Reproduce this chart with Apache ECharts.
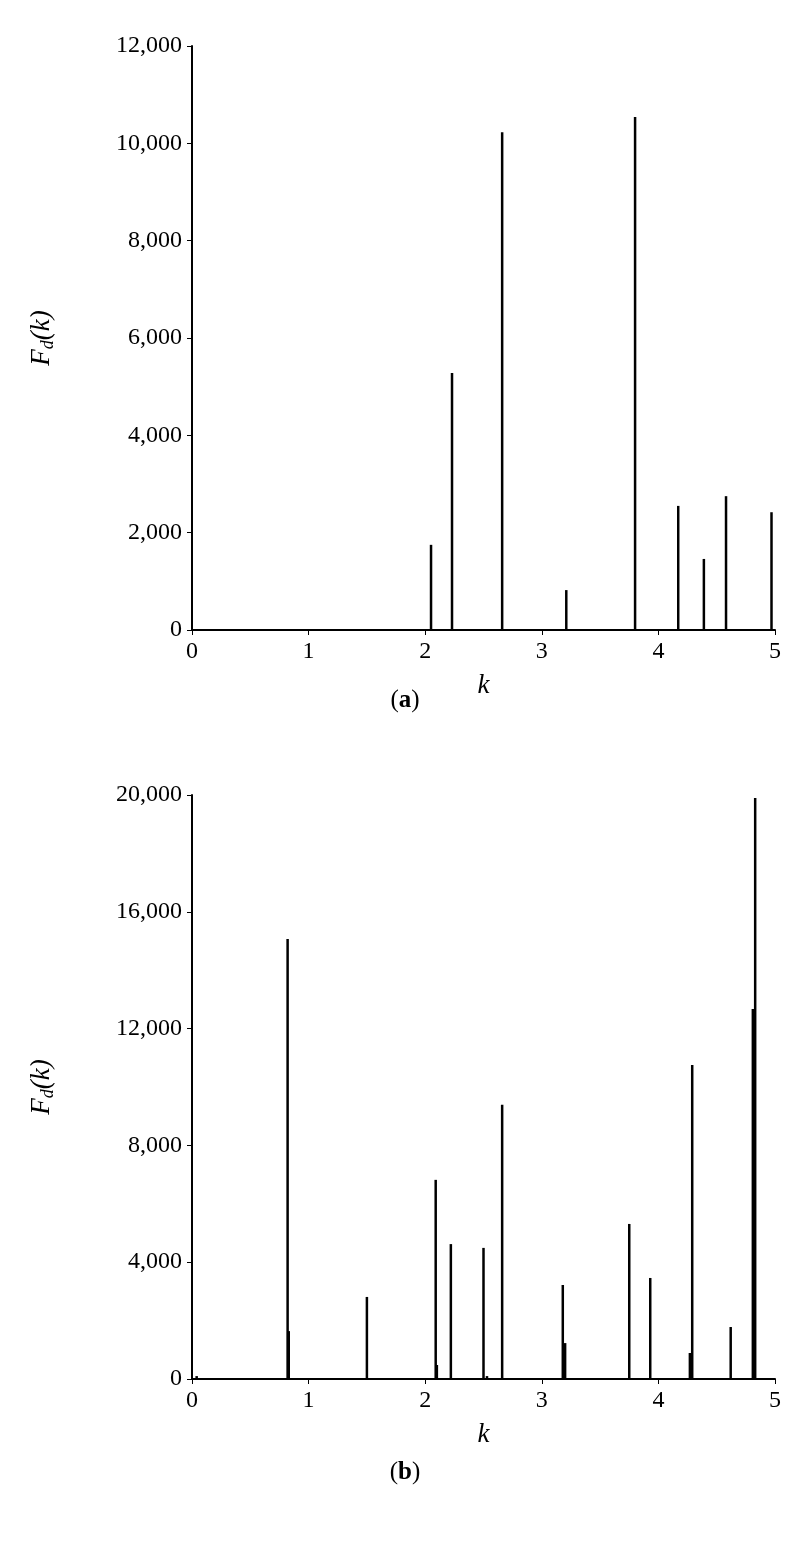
<!DOCTYPE html>
<html><head><meta charset="utf-8">
<script src="https://cdn.jsdelivr.net/npm/echarts@6/dist/echarts.min.js"></script>
<style>html,body{margin:0;background:#fff}#c{width:810px;height:1543px}</style>
</head><body><div id="c"></div>
<script>
// panel (a)
var kA = [2.05, 2.23, 2.66, 3.21, 3.80, 4.17, 4.39, 4.58, 4.97];
var fA = [1750, 5280, 10230, 820, 10540, 2550, 1460, 2750, 2420];
// panel (b)
var kB = [0.04, 0.82, 0.83, 1.50, 2.09, 2.10, 2.22, 2.50, 2.53, 2.66, 3.18, 3.20, 3.75, 3.93, 4.27, 4.29, 4.62, 4.81, 4.83];
var fB = [100, 15070, 1640, 2810, 6820, 480, 4620, 4490, 100, 9390, 3220, 1230, 5310, 3460, 890, 10750, 1780, 12670, 19900];

var font = 'Liberation Serif';
function pairs(k, f) { return k.map(function (v, i) { return [v, f[i]]; }); }
function xAx(idx) {
    return {
        gridIndex: idx, type: 'value', min: 0, max: 5, interval: 1,
        name: 'k', nameLocation: 'middle', nameGap: 42,
        nameTextStyle: { fontFamily: font, fontStyle: 'italic', fontSize: 27, color: '#000' },
        axisLine: { lineStyle: { color: '#000', width: 2 } },
        axisTick: { lineStyle: { color: '#000' }, length: 5 },
        axisLabel: { fontFamily: font, fontSize: 24, color: '#000', margin: 10 },
        splitLine: { show: false }
    };
}
function yAx(idx, max, iv) {
    return {
        gridIndex: idx, type: 'value', min: 0, max: max, interval: iv,
        name: '{f|F}{s|d}{f|(}{i|k}{f|)}', nameLocation: 'middle', nameGap: 135, nameRotate: 90,
        nameTextStyle: { rich: {
            f: { fontFamily: font, fontStyle: 'italic', fontSize: 27, color: '#000' },
            i: { fontFamily: font, fontStyle: 'italic', fontSize: 27, color: '#000' },
            s: { fontFamily: font, fontStyle: 'italic', fontSize: 18, color: '#000', verticalAlign: 'bottom', padding: [12, 0, 0, 0] }
        } },
        axisLine: { show: true, lineStyle: { color: '#000', width: 2 } },
        axisTick: { show: true, lineStyle: { color: '#000' }, length: 5 },
        axisLabel: { fontFamily: font, fontSize: 24, color: '#000', margin: 10,
            formatter: function (v) { return v.toLocaleString('en-US'); } },
        splitLine: { show: false }
    };
}
function ser(idx, k, f) {
    return { type: 'bar', xAxisIndex: idx, yAxisIndex: idx, data: pairs(k, f), barWidth: 2.5,
        itemStyle: { color: '#000' }, barGap: '-100%' };
}
var chart = echarts.init(document.getElementById('c'));
chart.setOption({
    animation: false,
    grid: [
        { left: 192, top: 46, width: 583, height: 584 },
        { left: 192, top: 795, width: 583, height: 584 }
    ],
    xAxis: [xAx(0), xAx(1)],
    yAxis: [yAx(0, 12000, 2000), yAx(1, 20000, 4000)],
    series: [ser(0, kA, fA), ser(1, kB, fB)],
    graphic: [
        { type: 'text', left: 'center', top: 688, style: { rich: {
            n: { fontFamily: font, fontSize: 25, fill: '#000' },
            b: { fontFamily: font, fontSize: 25, fontWeight: 'bold', fill: '#000' } },
            text: '{n|(}{b|a}{n|)}' } },
        { type: 'text', left: 'center', top: 1460, style: { rich: {
            n: { fontFamily: font, fontSize: 25, fill: '#000' },
            b: { fontFamily: font, fontSize: 25, fontWeight: 'bold', fill: '#000' } },
            text: '{n|(}{b|b}{n|)}' } }
    ]
});
</script></body></html>
